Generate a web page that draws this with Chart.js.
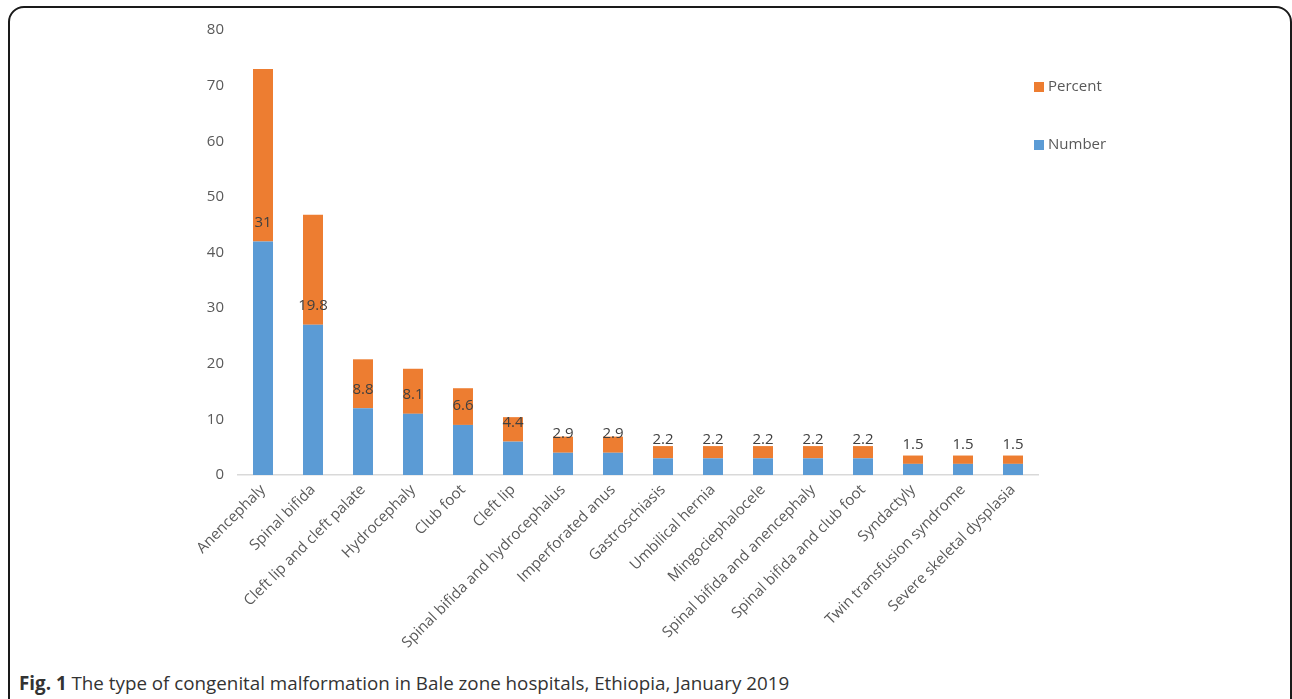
<!DOCTYPE html>
<html>
<head>
<meta charset="utf-8">
<script src="https://cdn.jsdelivr.net/npm/chart.js@4/dist/chart.umd.min.js"></script>
<style>
  body { margin: 0; background: #fff; font-family: "Open Sans", sans-serif; }
  #frame { position: absolute; left: 8px; top: 6px; width: 1280px; height: 720px;
    border: 2px solid #1a1a1a; border-radius: 16px; }
  #wrap { position: absolute; left: 0; top: 0; width: 1292px; height: 660px; }
  #cap { position: absolute; left: 19px; top: 670px; font-size: 18.8px; color: #333; }
</style>
</head>
<body>
<div id="frame"></div>
<div id="wrap"><canvas id="chart"></canvas></div>
<div id="cap"><b>Fig. 1</b> The type of congenital malformation in Bale zone hospitals, Ethiopia, January 2019</div>
<script>
let cats = ["Anencephaly", "Spinal bifida", "Cleft lip and cleft palate", "Hydrocephaly", "Club foot",
  "Cleft lip", "Spinal bifida and hydrocephalus", "Imperforated anus", "Gastroschiasis",
  "Umbilical hernia", "Mingociephalocele", "Spinal bifida and anencephaly",
  "Spinal bifida and club foot", "Syndactyly", "Twin transfusion syndrome", "Severe skeletal dysplasia"];
let number = [42, 27, 12, 11, 9, 6, 4, 4, 3, 3, 3, 3, 3, 2, 2, 2];
let percent = [31, 19.8, 8.8, 8.1, 6.6, 4.4, 2.9, 2.9, 2.2, 2.2, 2.2, 2.2, 2.2, 1.5, 1.5, 1.5];
let yTicks = [0, 10, 20, 30, 40, 50, 60, 70, 80];

const labelsPlugin = {
  id: "pctLabels",
  afterDatasetsDraw(c) {
    const ctx = c.ctx;
    const meta = c.getDatasetMeta(1);
    ctx.save();
    ctx.font = "15px 'Open Sans'";
    ctx.fillStyle = "#404040";
    ctx.textAlign = "center";
    ctx.textBaseline = "middle";
    meta.data.forEach((el, i) => {
      ctx.fillText(String(percent[i]), el.x, el.base - 19);
    });
    ctx.restore();
  },
};

const legendPlugin = {
  id: "sideLegend",
  afterDraw(c) {
    const ctx = c.ctx;
    const items = [c.data.datasets[1], c.data.datasets[0]];
    ctx.save();
    ctx.font = "15px 'Open Sans'";
    ctx.textBaseline = "middle";
    items.forEach((ds, i) => {
      const y = 87 + i * 58;
      ctx.fillStyle = ds.backgroundColor;
      ctx.fillRect(1034, y - 5, 10, 10);
      ctx.fillStyle = "#595959";
      ctx.fillText(ds.label, 1048, y);
    });
    ctx.restore();
  },
};

new Chart(document.getElementById("chart"), {
  type: "bar",
  data: {
    labels: cats,
    datasets: [
      { label: "Number", data: number, backgroundColor: "#5B9BD5", barPercentage: 0.4, categoryPercentage: 1 },
      { label: "Percent", data: percent, backgroundColor: "#ED7D31", barPercentage: 0.4, categoryPercentage: 1 },
    ],
  },
  options: {
    responsive: true,
    maintainAspectRatio: false,
    animation: false,
    layout: { padding: { top: 30, right: 254, left: 0, bottom: 0 } },
    plugins: { legend: { display: false }, tooltip: { enabled: false } },
    scales: {
      x: {
        stacked: true,
        grid: { display: false, drawTicks: false },
        border: { color: "#d9d9d9", width: 1.5 },
        ticks: { color: "#595959", font: { family: "Open Sans", size: 15 }, maxRotation: 45, minRotation: 45, padding: 6, autoSkip: false },
        afterFit(s) { s.height = 185; },
      },
      y: {
        stacked: true,
        min: 0,
        max: 80,
        grid: { display: false, drawTicks: false },
        border: { display: false },
        afterBuildTicks(s) { s.ticks = yTicks.map((v) => ({ value: v })); },
        ticks: { color: "#595959", font: { family: "Open Sans", size: 15 }, padding: 14 },
        afterFit(s) { s.width = 238; },
      },
    },
  },
  plugins: [labelsPlugin, legendPlugin],
});
</script>
</body>
</html>
